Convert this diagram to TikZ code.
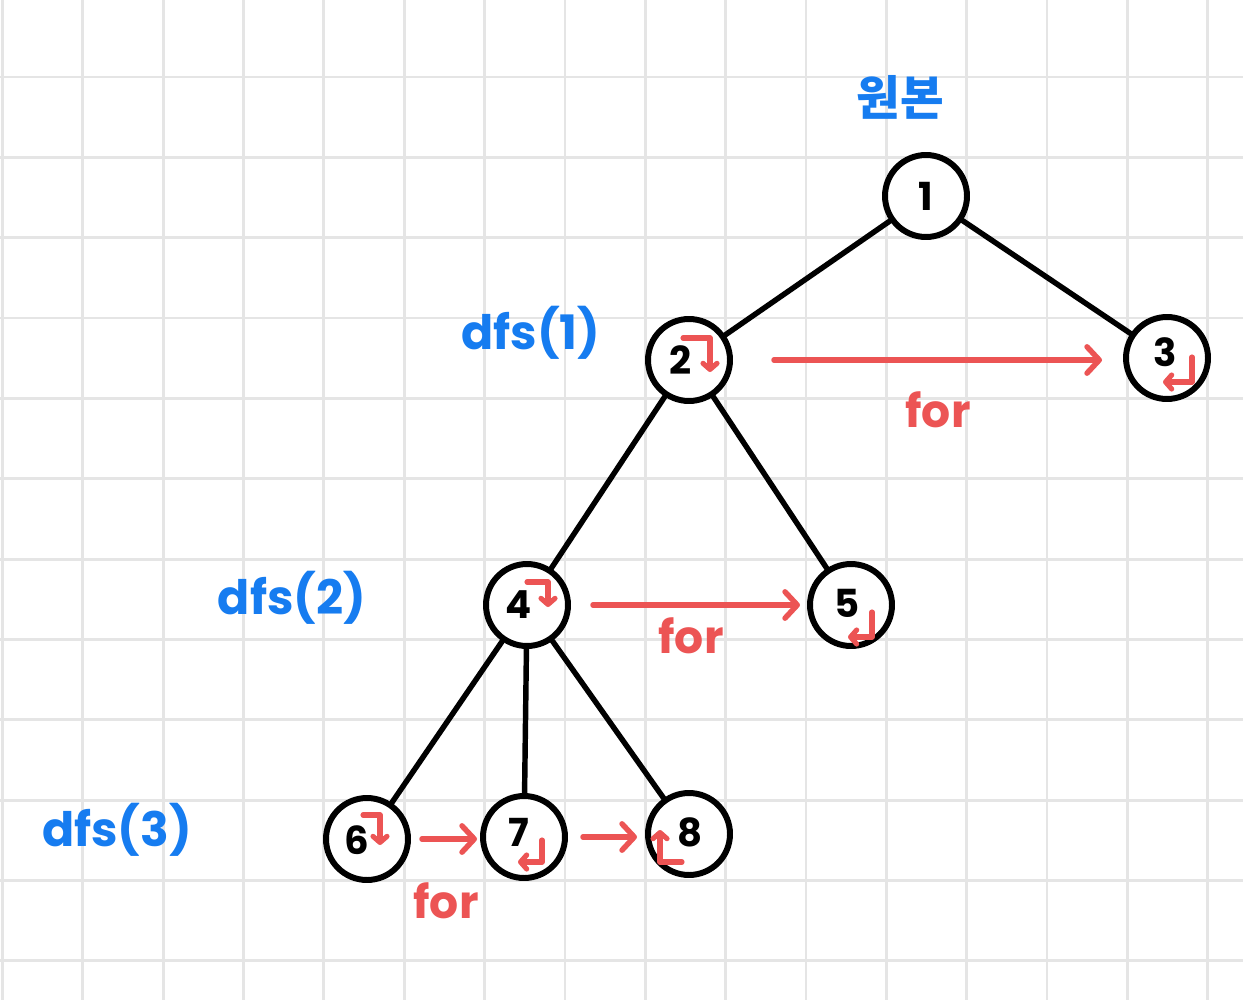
\documentclass[tikz,border=0pt]{standalone}
\usepackage{fontspec}
\setmainfont{Poppins}
\newfontfamily\krfont{Noto Sans CJK KR}
\usetikzlibrary{arrows.meta}
\definecolor{GridGray}{RGB}{229,229,229}
\definecolor{PenBlue}{RGB}{22,124,240}
\definecolor{PenRed}{RGB}{236,84,84}

\begin{document}
\begin{tikzpicture}[x=0.02cm,y=-0.02cm,
    vtx/.style={circle, draw=black, line width=3.4pt, minimum size=1.64cm, inner sep=0pt, fill=white},
    digit/.style={font=\fontsize{22}{24}\selectfont\bfseries},
    edge/.style={line width=3.1pt, black, line cap=round},
    forarrow/.style={draw=PenRed, line width=3.1pt, line cap=round, -{Straight Barb[length=7pt,width=15pt,round]}},
    turn/.style={draw=PenRed, line width=2.9pt, line cap=round, line join=round, -{Straight Barb[length=3.5pt,width=8pt,round]}},
    bluetxt/.style={text=PenBlue, font=\fontsize{27}{30}\selectfont\bfseries},
    redtxt/.style={text=PenRed, font=\fontsize{26}{30}\selectfont\bfseries}]

        \useasboundingbox (0,0) rectangle (1243,1000);
        \def\gs{80.35}

        % grid paper
        \foreach \i in {0,...,15} {
          \draw[GridGray, line width=1.6pt] (2.5+\i*\gs,0) -- (2.5+\i*\gs,1000);
        }
        \foreach \j in {0,...,11} {
          \draw[GridGray, line width=1.6pt] (0,77+\j*\gs) -- (1243,77+\j*\gs);
        }

        % tree
        \foreach \n/\x/\y/\dx/\dy in {1/926/196/0/0, 2/689/360/-8/0, 3/1167/358/-2/-6, 4/527/605/-8/0,
                                       5/851/605/-4/-2, 6/367/839/-10/1, 7/524/837/-5/-5, 8/689/834/1/-2} {
          \node[vtx, label={[digit, shift={(\dx,\dy)}]center:\n}] (n\n) at (\x,\y) {};
        }
        \foreach \a/\b in {1/2,1/3,2/4,2/5,4/6,4/7,4/8} {
          \draw[edge] (n\a) -- (n\b);
        }

        % return marks
        \foreach \n/\sx/\sy/\ax/\ay/\bx/\by in {
          2/-6/-22/27/0/0/34,
          4/0/-23/21/0/0/25,
          6/-4/-24/17/0/0/30,
          3/25/-1/0/25/-29/0,
          5/21/7/0/25/-24/0,
          7/18/3/0/22/-24/0,
          8/-7/28/-22/0/0/-32
        } {
          \draw[turn] ([shift={(\sx,\sy)}]n\n.center) -- ++(\ax,\ay) -- ++(\bx,\by);
        }

        % for loops
        \draw[forarrow, shorten <=0.82cm, shorten >=0.42cm] (n2.east) -- (n2.east -| n3.west);
        \draw[forarrow, shorten <=0.44cm, shorten >=0.14cm] (n4.east) -- (n4.east -| n5.west);
        \draw[forarrow, shorten <=0.22cm, shorten >=0.06cm] (n6.east) -- (n6.east -| n7.west);
        \draw[forarrow, shorten <=0.30cm, shorten >=0.16cm] (n7.east) -- (n7.east -| n8.west);
        \node[redtxt] (fora) at (938,410) {for};
        \node[redtxt] (forb) at (691,636) {for};
        \node[redtxt] (forc) at (446,901) {for};

        \node[bluetxt] (orig) at (900,97) {\krfont 원본};
        \node[bluetxt] (dfsa) at (531,333) {dfs(1)};
        \node[bluetxt] (dfsb) at (292,598) {dfs(2)};
        \node[bluetxt] (dfsc) at (117,830) {dfs(3)};

      \end{tikzpicture}
\end{document}
